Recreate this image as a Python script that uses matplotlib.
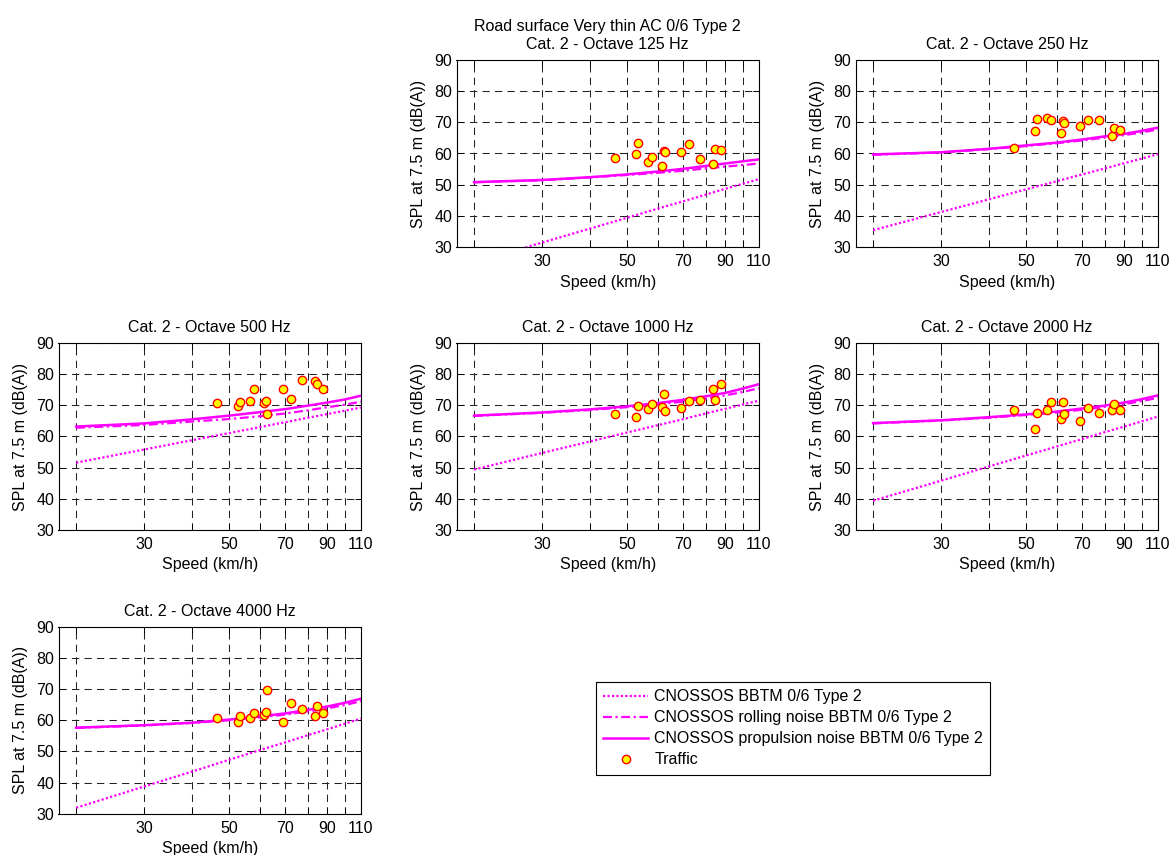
import matplotlib
matplotlib.use("Agg")
import matplotlib.pyplot as plt
from matplotlib.ticker import FixedLocator, FixedFormatter, NullLocator
from matplotlib.lines import Line2D

plt.rcParams['font.family'] = ['Liberation Sans', 'DejaVu Sans']

# ---------------- data ----------------
line_speeds = [20, 30, 40, 50, 60, 70, 80, 90, 100, 110]

bbtm_125 = [25.0, 31.4, 35.9, 39.4, 42.3, 44.7, 46.8, 48.7, 50.3, 51.8]
rolling_125 = [50.8, 51.4, 52.3, 53.1, 53.8, 54.5, 55.2, 55.8, 56.3, 56.8]
propulsion_125 = [50.8, 51.5, 52.4, 53.3, 54.2, 55.1, 56.0, 56.8, 57.5, 58.1]

bbtm_250 = [35.4, 41.2, 45.3, 48.5, 51.1, 53.3, 55.2, 56.9, 58.4, 59.8]
rolling_250 = [59.6, 60.3, 61.4, 62.4, 63.3, 64.2, 65.1, 65.9, 66.8, 67.7]
propulsion_250 = [59.7, 60.4, 61.5, 62.6, 63.5, 64.5, 65.5, 66.3, 67.3, 68.3]

bbtm_500 = [51.6, 55.8, 58.8, 61.1, 63.0, 64.6, 66.0, 67.2, 68.3, 69.3]
rolling_500 = [62.8, 63.7, 64.8, 65.6, 66.5, 67.4, 68.4, 69.4, 70.2, 71.2]
propulsion_500 = [63.2, 64.2, 65.5, 66.7, 67.8, 68.8, 69.9, 70.9, 71.9, 73.1]

bbtm_1000 = [49.4, 54.7, 58.4, 61.3, 63.6, 65.6, 67.4, 68.9, 70.3, 71.5]
rolling_1000 = [66.6, 67.6, 68.5, 69.4, 70.3, 71.2, 72.2, 73.2, 74.3, 75.5]
propulsion_1000 = [66.7, 67.7, 68.7, 69.7, 70.7, 71.8, 72.9, 74.0, 75.4, 76.8]

bbtm_2000 = [39.4, 45.8, 50.4, 53.9, 56.8, 59.2, 61.4, 63.2, 64.9, 66.4]
rolling_2000 = [64.2, 65.1, 66.0, 66.9, 67.7, 68.6, 69.5, 70.4, 71.4, 72.4]
propulsion_2000 = [64.3, 65.2, 66.2, 67.1, 68.0, 69.0, 69.9, 70.9, 72.0, 73.2]

bbtm_4000 = [31.9, 38.7, 43.5, 47.3, 50.4, 52.9, 55.2, 57.1, 58.9, 60.5]
rolling_4000 = [57.5, 58.3, 59.1, 60.0, 60.9, 61.8, 62.8, 63.8, 64.9, 66.1]
propulsion_4000 = [57.6, 58.4, 59.2, 60.2, 61.2, 62.2, 63.3, 64.4, 65.6, 66.9]

traffic_speeds = [46.6, 52.6, 53.3, 56.5, 58.1, 61.6, 62.2, 62.6, 68.8, 72.2, 77.4, 83.3, 84.6, 87.4]
traffic_125 = [58.7, 59.8, 63.3, 57.3, 58.8, 55.9, 60.9, 60.5, 60.5, 63.0, 58.3, 56.6, 61.6, 61.2]
traffic_250 = [61.9, 67.3, 71.2, 71.3, 70.9, 66.6, 70.5, 69.7, 68.7, 70.9, 70.9, 65.5, 68.2, 67.6]
traffic_500 = [70.6, 69.9, 71.0, 71.4, 75.2, 70.6, 71.4, 67.1, 75.2, 72.1, 78.1, 77.8, 76.7, 75.3]
traffic_1000 = [67.1, 66.1, 69.9, 68.9, 70.4, 69.6, 73.6, 68.2, 69.3, 71.4, 71.8, 75.3, 71.8, 76.8]
traffic_2000 = [68.5, 62.5, 67.5, 68.4, 71.0, 65.6, 71.0, 67.1, 65.0, 69.2, 67.5, 68.4, 70.4, 68.4]
traffic_4000 = [60.7, 59.3, 61.5, 60.7, 62.2, 61.8, 62.7, 69.6, 59.3, 65.5, 63.6, 61.5, 64.4, 62.2]

bands = ["125", "250", "500", "1000", "2000", "4000"]
bbtm = [bbtm_125, bbtm_250, bbtm_500, bbtm_1000, bbtm_2000, bbtm_4000]
rolling = [rolling_125, rolling_250, rolling_500, rolling_1000, rolling_2000, rolling_4000]
propulsion = [propulsion_125, propulsion_250, propulsion_500, propulsion_1000, propulsion_2000, propulsion_4000]
traffic = [traffic_125, traffic_250, traffic_500, traffic_1000, traffic_2000, traffic_4000]

x_ticks = [20, 30, 40, 50, 60, 70, 80, 90, 100, 110]
x_tick_labels = ["", "30", "", "50", "", "70", "", "90", "", "110"]
y_ticks = [30, 40, 50, 60, 70, 80, 90]

legend_labels = ["CNOSSOS BBTM 0/6 Type 2",
                 "CNOSSOS rolling noise BBTM 0/6 Type 2",
                 "CNOSSOS propulsion noise BBTM 0/6 Type 2",
                 "Traffic"]

# ---------------- layout ----------------
W, H = 1172, 855
fig = plt.figure(figsize=(W / 100, H / 100), dpi=100)

col_left = [58.5, 456.5, 855.5]
row_top = [60.0, 343.0, 626.7]
ax_w, ax_h = 302.5, 187.0
slots = [(0, 1), (0, 2), (1, 0), (1, 1), (1, 2), (2, 0)]

MAG = (1.0, 0.0, 1.0)
FS = 11.5
dot_style = (0, (1, 1))
dashdot_style = (0, (4, 1.6, 1.0, 1.6))

for i, band in enumerate(bands):
    r, c = slots[i]
    ax = fig.add_axes([col_left[c] / W, 1 - (row_top[r] + ax_h) / H, ax_w / W, ax_h / H])
    ax.set_xscale('log')
    ax.plot(line_speeds, bbtm[i], color=MAG, lw=1.6, linestyle=dot_style, zorder=3)
    ax.plot(line_speeds, rolling[i], color=MAG, lw=1.6, linestyle=dashdot_style, zorder=3)
    ax.plot(line_speeds, propulsion[i], color=MAG, lw=1.8, linestyle='-', zorder=3)
    ax.plot(traffic_speeds, traffic[i], linestyle='none', marker='o', markersize=6,
            markerfacecolor='yellow', markeredgecolor='red', markeredgewidth=1.0, zorder=4)
    ax.set_xlim(18, 110)
    ax.set_ylim(30, 90)
    ax.xaxis.set_major_locator(FixedLocator(x_ticks))
    ax.xaxis.set_major_formatter(FixedFormatter(x_tick_labels))
    ax.xaxis.set_minor_locator(NullLocator())
    ax.yaxis.set_major_locator(FixedLocator(y_ticks))
    ax.tick_params(direction='in', length=4, width=0.7, top=True, right=True,
                   labelsize=FS, colors='black')
    ax.tick_params(axis='x', pad=5)
    ax.tick_params(axis='y', pad=3)
    ax.grid(True, color='#222222', linestyle=(0, (7, 5)), linewidth=0.75)
    ax.set_axisbelow(True)
    for sp in ax.spines.values():
        sp.set_linewidth(0.8)
    ax.set_xlabel("Speed (km/h)", fontsize=FS, labelpad=4)
    ax.set_ylabel("SPL at 7.5 m (dB(A))", fontsize=FS, labelpad=6)
    title = "Cat. 2 - Octave %s Hz" % band
    if i == 0:
        title = "Road surface Very thin AC 0/6 Type 2\n" + title
    ax.set_title(title, fontsize=FS, pad=8, linespacing=1.25)

handles = [
    Line2D([], [], color=MAG, lw=1.6, linestyle=dot_style),
    Line2D([], [], color=MAG, lw=1.6, linestyle=dashdot_style),
    Line2D([], [], color=MAG, lw=1.8, linestyle='-'),
    Line2D([], [], linestyle='none', marker='o', markersize=6,
           markerfacecolor='yellow', markeredgecolor='red', markeredgewidth=1.0),
]
leg = fig.legend(handles, legend_labels, loc='upper left',
                 bbox_to_anchor=(596 / W, 1 - 682 / H), bbox_transform=fig.transFigure,
                 fontsize=FS, frameon=True, fancybox=False, shadow=False,
                 handlelength=2.8, handletextpad=0.4, labelspacing=0.38,
                 borderpad=0.45, borderaxespad=0, numpoints=1)
leg.get_frame().set_edgecolor('black')
leg.get_frame().set_linewidth(0.8)
leg.get_frame().set_alpha(1)

fig.savefig("out.png", dpi=100)
